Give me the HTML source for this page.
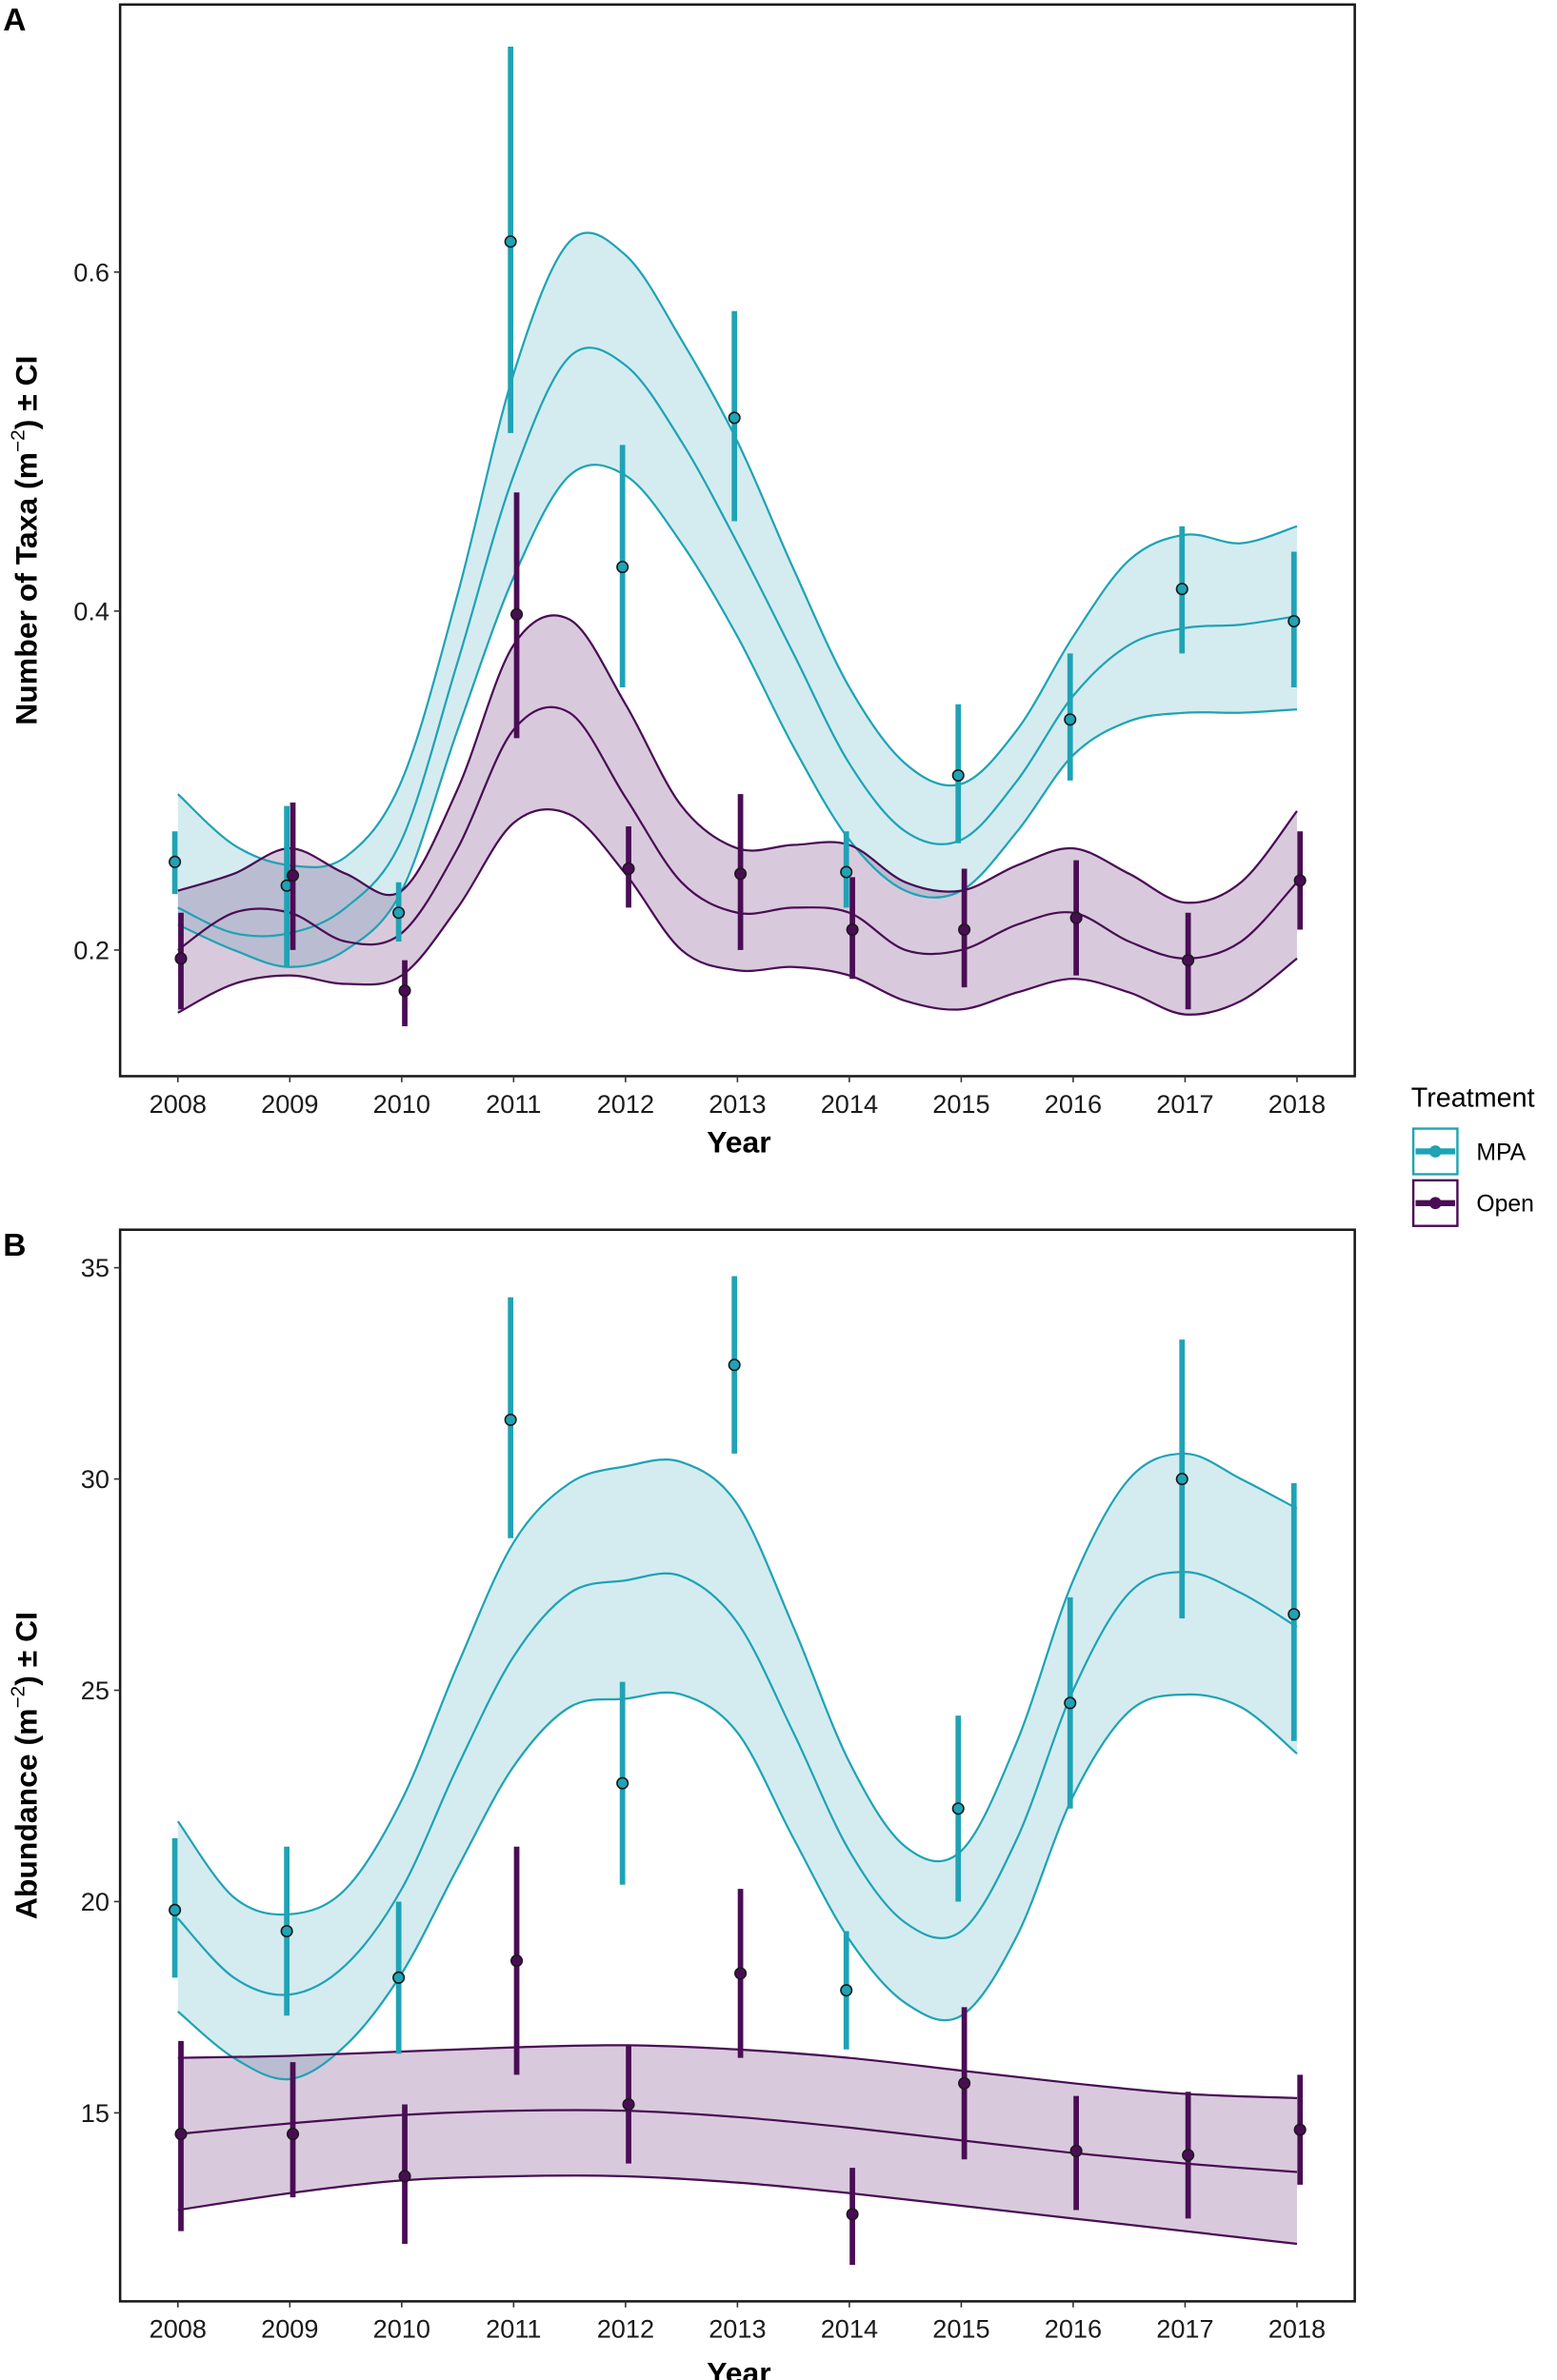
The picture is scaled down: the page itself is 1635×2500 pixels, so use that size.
<!DOCTYPE html>
<html><head><meta charset="utf-8"><style>
html,body{margin:0;padding:0;background:#fff;}
svg{display:block;font-family:"Liberation Sans",Arial,sans-serif;}
</style></head><body>
<svg id="chart" width="1635" height="2500" viewBox="0 0 1024 1565.75" xmlns="http://www.w3.org/2000/svg">
<rect x="0" y="0" width="1024" height="1565.75" fill="#fff"/>
<g id="pA"></g>
<g id="pB"></g>
<text x="2" y="20" font-size="21" font-weight="bold">A</text>
<text x="2" y="826" font-size="21" font-weight="bold">B</text>
<g>
<text x="928" y="728" font-size="18">Treatment</text>
<g>
<rect x="929.5" y="742.5" width="29" height="30" fill="none" stroke="#1fa3b5" stroke-width="1.5"/>
<line x1="931" y1="757.5" x2="957" y2="757.5" stroke="#1fa3b5" stroke-width="4"/>
<circle cx="944" cy="757.5" r="3.5" fill="#1fa3b5" stroke="#1fa3b5" stroke-width="1"/>
<text x="971" y="763" font-size="15.5">MPA</text></g>
<g>
<rect x="929.5" y="776.5" width="29" height="30" fill="none" stroke="#4a0d55" stroke-width="1.5"/>
<line x1="931" y1="791.5" x2="957" y2="791.5" stroke="#4a0d55" stroke-width="4"/>
<circle cx="944" cy="791.5" r="3.5" fill="#4a0d55" stroke="#4a0d55" stroke-width="1"/>
<text x="971" y="797" font-size="15.5">Open</text></g>
</g>
</svg>
<script>
const years=[2008,2009,2010,2011,2012,2013,2014,2015,2016,2017,2018];
const halfYears=[2008,2008.5,2009,2009.5,2010,2010.5,2011,2011.5,2012,2012.5,2013,2013.5,2014,2014.5,2015,2015.5,2016,2016.5,2017,2017.5,2018];
// Panel A: number of taxa
const aTicks=[0.2,0.4,0.6];
const aMpaPt=[0.252,0.238,0.222,0.618,0.426,0.514,0.246,0.303,0.336,0.413,0.394];
const aMpaLo=[0.233,0.19,0.205,0.505,0.355,0.453,0.225,0.263,0.3,0.375,0.355];
const aMpaHi=[0.27,0.285,0.24,0.733,0.498,0.577,0.27,0.345,0.375,0.45,0.435];
const aOpenPt=[0.195,0.244,0.176,0.398,0.248,0.245,0.212,0.212,0.219,0.194,0.241];
const aOpenLo=[0.165,0.2,0.155,0.325,0.225,0.2,0.183,0.178,0.185,0.165,0.212];
const aOpenHi=[0.222,0.287,0.194,0.47,0.273,0.292,0.243,0.248,0.253,0.222,0.27];
const aMpaFit=[0.225,0.21,0.21,0.225,0.265,0.37,0.48,0.55,0.545,0.5,0.44,0.375,0.31,0.27,0.265,0.3,0.35,0.38,0.39,0.392,0.397];
const aMpaFitHi=[0.292,0.262,0.25,0.255,0.3,0.41,0.54,0.618,0.61,0.56,0.5,0.425,0.355,0.31,0.298,0.33,0.385,0.43,0.445,0.44,0.45];
const aMpaFitLo=[0.215,0.2,0.19,0.2,0.235,0.33,0.42,0.48,0.48,0.44,0.385,0.32,0.265,0.235,0.235,0.27,0.315,0.335,0.34,0.34,0.342];
const aOpenFit=[0.2,0.222,0.222,0.205,0.21,0.26,0.33,0.34,0.29,0.24,0.222,0.225,0.222,0.2,0.2,0.215,0.222,0.205,0.195,0.205,0.24];
const aOpenFitHi=[0.235,0.245,0.26,0.245,0.235,0.295,0.38,0.395,0.345,0.285,0.26,0.262,0.262,0.24,0.235,0.25,0.26,0.245,0.228,0.24,0.282];
const aOpenFitLo=[0.163,0.18,0.185,0.18,0.185,0.225,0.275,0.28,0.245,0.2,0.188,0.19,0.185,0.17,0.165,0.175,0.183,0.175,0.162,0.17,0.195];
// Panel B: abundance
const bTicks=[15,20,25,30,35];
const bMpaPt=[19.8,19.3,18.2,31.4,22.8,32.7,17.9,22.2,24.7,30.0,26.8];
const bMpaLo=[18.2,17.3,16.4,28.6,20.4,30.6,16.5,20.0,22.2,26.7,23.8];
const bMpaHi=[21.5,21.3,20.0,34.3,25.2,34.8,19.3,24.4,27.2,33.3,29.9];
const bOpenPt=[14.5,14.5,13.5,18.6,15.2,18.3,12.6,15.7,14.1,14.0,14.6];
const bOpenLo=[12.2,13.0,11.9,15.9,13.8,16.3,11.4,13.9,12.7,12.5,13.3];
const bOpenHi=[16.7,16.2,15.2,21.3,16.6,20.3,13.7,17.5,15.4,15.5,15.9];
const bMpaFit=[19.6,18.2,17.8,18.5,20.3,23.2,25.8,27.3,27.6,27.7,26.6,24.0,21.2,19.5,19.3,21.5,25.0,27.3,27.8,27.3,26.5];
const bMpaFitHi=[21.9,20.1,19.7,20.3,22.4,25.6,28.5,29.9,30.3,30.4,29.4,26.5,23.3,21.3,21.2,23.8,27.6,30.0,30.6,30.0,29.3];
const bMpaFitLo=[17.4,16.3,15.8,16.6,18.3,20.8,23.2,24.6,24.8,24.9,24.0,21.5,19.1,17.6,17.3,19.2,22.5,24.5,24.9,24.6,23.5];
const bOpenFit=[14.5,14.75,14.95,15.05,15.05,14.9,14.65,14.35,14.05,13.8,13.6];
const bOpenFitHi=[16.3,16.35,16.45,16.55,16.6,16.5,16.3,16.0,15.7,15.45,15.35];
const bOpenFitLo=[12.7,13.1,13.4,13.5,13.5,13.35,13.1,12.8,12.5,12.2,11.9];

const NS="http://www.w3.org/2000/svg";
const TEAL="#1fa3b5",PURP="#4a0d55";
function mk(tag,attrs,parent){const e=document.createElementNS(NS,tag);for(const k in attrs)e.setAttribute(k,attrs[k]);parent.appendChild(e);return e;}
const xScale=y=>117+(y-2008)*73.6;
function smooth(pts){let d="M"+pts[0][0]+","+pts[0][1];for(let i=0;i<pts.length-1;i++){const p0=pts[Math.max(0,i-1)],p1=pts[i],p2=pts[i+1],p3=pts[Math.min(pts.length-1,i+2)];const c1=[p1[0]+(p2[0]-p0[0])/6,p1[1]+(p2[1]-p0[1])/6],c2=[p2[0]-(p3[0]-p1[0])/6,p2[1]-(p3[1]-p1[1])/6];d+=" C"+c1[0]+","+c1[1]+" "+c2[0]+","+c2[1]+" "+p2[0]+","+p2[1];}return d;}
function pts(xs,vs,ys){return xs.map((x,i)=>[xScale(x),ys(vs[i])]);}
function panel(g,box,ys,ticks,tickFmt,title,bands,series,yearY){
  mk("rect",{x:box[0],y:box[1],width:box[2]-box[0],height:box[3]-box[1],fill:"#fff"},g);
  bands.forEach(b=>{
    const up=pts(b.x,b.hi,ys),lo=pts(b.x,b.lo,ys).reverse();
    const d=smooth(up)+" L"+lo[0][0]+","+lo[0][1]+smooth(lo).replace(/^M[^ ]+/,"")+" Z";
    const band=mk("path",{d:d,fill:b.fill,"fill-opacity":b.op,stroke:"none"},g);
    
    
  });
  bands.forEach(b=>{
    [b.hi,b.mid,b.lo].forEach((arr,k)=>{
      const l=mk("path",{d:smooth(pts(b.x,arr,ys)),fill:"none",stroke:b.col,"stroke-width":1.4},g);
      
      
    });
  });
  series.forEach(s=>{
    years.forEach((yr,i)=>{
      const x=xScale(yr)+s.dx;
      const eb=mk("line",{x1:x,x2:x,y1:ys(s.lo[i]),y2:ys(s.hi[i]),stroke:s.col,"stroke-width":3.6},g);
      
      
      const c=mk("circle",{cx:x,cy:ys(s.pt[i]),r:3.6,fill:s.col,stroke:"#1a1a1a","stroke-width":1},g);
      
      
    });
  });
  mk("rect",{x:box[0],y:box[1],width:box[2]-box[0],height:box[3]-box[1],fill:"none",stroke:"#1a1a1a","stroke-width":1.6},g);
  ticks.forEach(t=>{
    const y=ys(t);
    mk("line",{x1:box[0]-4,x2:box[0],y1:y,y2:y,stroke:"#333","stroke-width":1},g);
    const tx=mk("text",{x:box[0]-7,y:y+6,"font-size":17,"text-anchor":"end",fill:"#1a1a1a"},g);
    tx.textContent=tickFmt(t);
    
    
  });
  years.forEach(yr=>{
    const x=xScale(yr);
    mk("line",{x1:x,x2:x,y1:box[3],y2:box[3]+4,stroke:"#333","stroke-width":1},g);
    const tx=mk("text",{x:x,y:box[3]+24,"font-size":17,"text-anchor":"middle",fill:"#1a1a1a"},g);
    tx.textContent=yr;
    
    
  });
  const xt=mk("text",{x:486,y:yearY,"font-size":20,"font-weight":"bold","text-anchor":"middle"},g);
  xt.textContent="Year";
  
  
  const cy=(box[1]+box[3])/2;
  const yt=mk("text",{x:0,y:0,"font-size":20,"font-weight":"bold","text-anchor":"middle",transform:"translate(24,"+cy+") rotate(-90)"},g);
  yt.innerHTML=title+" (m<tspan font-weight=\"normal\" dy=\"-8\" font-size=\"13\">−2</tspan><tspan dy=\"8\">) ± CI</tspan>";
  
  
}
const ysA=v=>179+(0.6-v)*1115;
const ysB=v=>973+(30-v)*27.8;
panel(document.getElementById("pA"),[79,3,891,708],ysA,aTicks,t=>t.toFixed(1),"Number of Taxa",
 [{name:"mpa",x:halfYears,mid:aMpaFit,hi:aMpaFitHi,lo:aMpaFitLo,fill:"#a9d9e2",op:0.5,col:TEAL},
  {name:"open",x:halfYears,mid:aOpenFit,hi:aOpenFitHi,lo:aOpenFitLo,fill:"#7d4f8a",op:0.3,col:PURP}],
 [{name:"mpa",pt:aMpaPt,lo:aMpaLo,hi:aMpaHi,col:TEAL,dx:-2},{name:"open",pt:aOpenPt,lo:aOpenLo,hi:aOpenHi,col:PURP,dx:2}],758);
panel(document.getElementById("pB"),[79,809,891,1514],ysB,bTicks,t=>String(t),"Abundance",
 [{name:"mpa",x:halfYears,mid:bMpaFit,hi:bMpaFitHi,lo:bMpaFitLo,fill:"#a9d9e2",op:0.5,col:TEAL},
  {name:"open",x:years,mid:bOpenFit,hi:bOpenFitHi,lo:bOpenFitLo,fill:"#7d4f8a",op:0.3,col:PURP}],
 [{name:"mpa",pt:bMpaPt,lo:bMpaLo,hi:bMpaHi,col:TEAL,dx:-2},{name:"open",pt:bOpenPt,lo:bOpenLo,hi:bOpenHi,col:PURP,dx:2}],1568);
</script>
</body></html>
